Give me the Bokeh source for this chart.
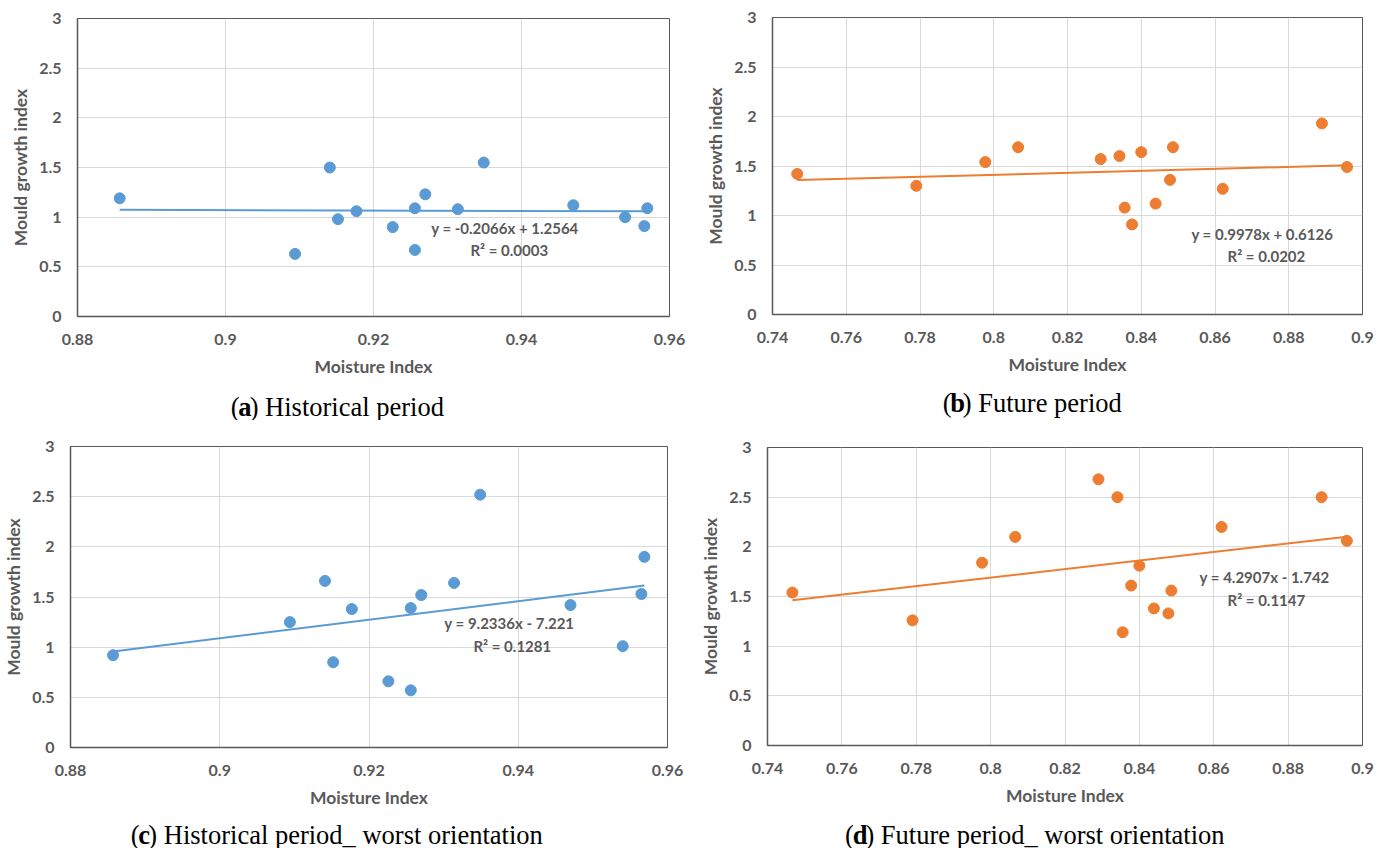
from bokeh.plotting import figure
from bokeh.models import Label, FixedTicker
from bokeh.layouts import column, row
from bokeh.core.properties import value
from bokeh.embed import file_html
from bokeh.resources import INLINE

# ---------------- data ----------------
hist_moisture = [0.8857, 0.9094, 0.9141, 0.9152, 0.9177, 0.9226, 0.9256, 0.9256,
                 0.9270, 0.9314, 0.9349, 0.9470, 0.9540, 0.9566, 0.9570]
hist_mould = [1.19, 0.63, 1.50, 0.98, 1.06, 0.90, 1.09, 0.67,
              1.23, 1.08, 1.55, 1.12, 1.00, 0.91, 1.09]
hist_worst_moisture = [0.8857, 0.9094, 0.9141, 0.9152, 0.9177, 0.9226, 0.9256, 0.9256,
                       0.9270, 0.9314, 0.9349, 0.9470, 0.9540, 0.9565, 0.9569]
hist_worst_mould = [0.92, 1.25, 1.66, 0.85, 1.38, 0.66, 1.39, 0.57,
                    1.52, 1.64, 2.52, 1.42, 1.01, 1.53, 1.90]

future_moisture = [0.7467, 0.7790, 0.7977, 0.8066, 0.8290, 0.8341, 0.8355, 0.8375,
                   0.8400, 0.8439, 0.8478, 0.8486, 0.8621, 0.8890, 0.8958]
future_mould = [1.42, 1.30, 1.54, 1.69, 1.57, 1.60, 1.08, 0.91,
                1.64, 1.12, 1.36, 1.69, 1.27, 1.93, 1.49]
future_worst_moisture = [0.7467, 0.7790, 0.7977, 0.8066, 0.8290, 0.8341, 0.8355, 0.8378,
                         0.8400, 0.8439, 0.8478, 0.8486, 0.8621, 0.8890, 0.8958]
future_worst_mould = [1.54, 1.26, 1.84, 2.10, 2.68, 2.50, 1.14, 1.61,
                      1.81, 1.38, 1.33, 1.56, 2.20, 2.50, 2.06]

hist_x_ticks = [0.88, 0.90, 0.92, 0.94, 0.96]
hist_x_labels = ["0.88", "0.9", "0.92", "0.94", "0.96"]
future_x_ticks = [0.74, 0.76, 0.78, 0.80, 0.82, 0.84, 0.86, 0.88, 0.90]
future_x_labels = ["0.74", "0.76", "0.78", "0.8", "0.82", "0.84", "0.86", "0.88", "0.9"]
y_ticks = [0, 0.5, 1, 1.5, 2, 2.5, 3]
y_labels = ["0", "0.5", "1", "1.5", "2", "2.5", "3"]

trend_slopes = [-0.2066, 0.9978, 9.2336, 4.2907]
trend_intercepts = [1.2564, 0.6126, -7.221, -1.742]
equation_texts = ["y = -0.2066x + 1.2564", "y = 0.9978x + 0.6126",
                  "y = 9.2336x - 7.221", "y = 4.2907x - 1.742"]
r2_texts = ["R\u00b2 = 0.0003", "R\u00b2 = 0.0202", "R\u00b2 = 0.1281", "R\u00b2 = 0.1147"]
caption_letters = ["a", "b", "c", "d"]
caption_texts = ["Historical period", "Future period",
                 "Historical period_ worst orientation", "Future period_ worst orientation"]

x_title = "Moisture Index"
y_title = "Mould growth index"

BLUE = "#5b9bd5"
ORANGE = "#ed7d31"
TXT = "#595959"
GRID = "#d9d9d9"
CAP_FONT = "Liberation Serif"
CAP_SIZE = 26.5
CAP_SHIFT = -43
LETTER_W = {"a": 0.5, "b": 0.556, "c": 0.444, "d": 0.556}


def make_panel(xs, ys, color, xticks, xlabels, idx, geom, eq_pos):
    width, height, left, right, top, bottom = geom
    x0, x1 = xticks[0], xticks[-1]
    p = figure(width=width, height=height, output_backend="svg", toolbar_location=None,
               x_range=(x0, x1), y_range=(0, 3),
               min_border_left=left, min_border_right=right,
               min_border_top=top, min_border_bottom=bottom,
               background_fill_color="white", border_fill_color="white")
    p.outline_line_color = TXT
    p.outline_line_width = 1
    p.xgrid.grid_line_color = GRID
    p.ygrid.grid_line_color = GRID

    p.xaxis.ticker = FixedTicker(ticks=xticks)
    p.xaxis.major_label_overrides = dict(zip(xticks, xlabels))
    p.yaxis.ticker = FixedTicker(ticks=y_ticks)
    p.yaxis.major_label_overrides = dict(zip(y_ticks, y_labels))
    for ax in (p.xaxis, p.yaxis):
        ax.axis_line_color = TXT
        ax.axis_line_width = 1.5
        ax.major_tick_line_color = None
        ax.minor_tick_line_color = None
        ax.major_tick_out = 0
        ax.major_tick_in = 0
        ax.major_label_text_font = "Lato"
        ax.major_label_text_font_style = "bold"
        ax.major_label_text_font_size = "16px"
        ax.major_label_text_color = TXT
        ax.axis_label_text_font = "Lato"
        ax.axis_label_text_font_style = "bold"
        ax.axis_label_text_font_size = "17.5px"
        ax.axis_label_text_color = TXT
    p.xaxis.axis_label = x_title
    p.yaxis.axis_label = y_title
    p.xaxis.major_label_standoff = 17
    p.xaxis.axis_label_standoff = 8
    p.yaxis.major_label_standoff = 16
    p.yaxis.axis_label_standoff = 5

    # trendline from the chart's printed equation, spanning the data
    lx = [min(xs), max(xs)]
    ly = [trend_slopes[idx] * v + trend_intercepts[idx] for v in lx]
    p.line(lx, ly, line_color=color, line_width=2)
    p.scatter(xs, ys, size=11, fill_color=color, line_color=color)

    (ex1, ey1), (ex2, ey2) = eq_pos
    for txt, xx, yy in ((equation_texts[idx], ex1, ey1), (r2_texts[idx], ex2, ey2)):
        p.add_layout(Label(x=xx, y=yy, text=txt, text_align="left", text_baseline="middle",
                           text_font="Lato", text_font_style="bold", text_font_size="15px",
                           text_color=TXT))
    return p


def make_caption(idx, width, height, start_x, center_from_top):
    c = figure(width=width, height=height, output_backend="svg", toolbar_location=None,
               x_range=(0, width), y_range=(0, height),
               x_axis_type=None, y_axis_type=None,
               min_border_left=0, min_border_right=0, min_border_top=0, min_border_bottom=0,
               background_fill_color="white", border_fill_color="white")
    c.grid.visible = False
    c.outline_line_color = None
    letter = caption_letters[idx]
    texts = ["(", letter, ") " + caption_texts[idx]]
    offs = [0.0, 0.333 * CAP_SIZE, (0.333 + LETTER_W[letter]) * CAP_SIZE]
    styles = ["normal", "bold", "normal"]
    yy = height - center_from_top
    c.text(x=[start_x + CAP_SHIFT + o for o in offs], y=[yy] * 3, text=texts,
           text_font=value(CAP_FONT), text_font_style=styles,
           text_font_size=value(f"{CAP_SIZE}px"), text_color="black",
           text_align="left", text_baseline="middle")
    return c


pa = make_panel(hist_moisture, hist_mould, BLUE, hist_x_ticks, hist_x_labels, 0,
                (695, 384, 77, 26, 18, 68), ((0.9278, 0.886), (0.9331, 0.665)))
pb = make_panel(future_moisture, future_mould, ORANGE, future_x_ticks, future_x_labels, 1,
                (690, 384, 77, 23, 17, 70), ((0.8536, 0.818), (0.8634, 0.586)))
pc = make_panel(hist_worst_moisture, hist_worst_mould, BLUE, hist_x_ticks, hist_x_labels, 2,
                (695, 393, 70, 28, 26, 66), ((0.9301, 1.236), (0.9340, 1.007)))
pd = make_panel(future_worst_moisture, future_worst_mould, ORANGE, future_x_ticks, future_x_labels, 3,
                (690, 393, 72, 23, 27, 68), ((0.8562, 1.692), (0.8637, 1.460)))

ca = make_caption(0, 695, 36, 223, 22)
cb = make_caption(1, 690, 36, 242, 18)
cc = make_caption(2, 695, 35, 113, 21)
cd = make_caption(3, 690, 35, 133, 21)

layout = column(row(column(pa, ca), column(pb, cb)), row(column(pc, cc), column(pd, cd)))
open("out.html", "w").write(file_html(layout, INLINE))
